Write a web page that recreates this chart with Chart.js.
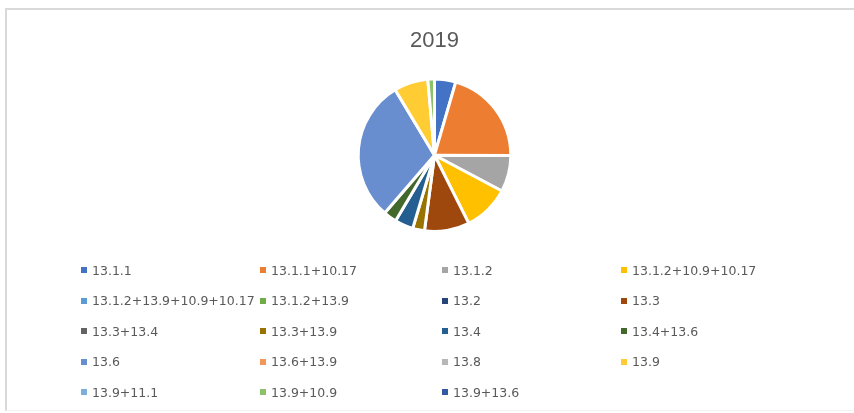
<!DOCTYPE html>
<html>
<head>
<meta charset="utf-8">
<script src="https://cdn.jsdelivr.net/npm/chart.js@4"></script>
<style>
    html, body {
        margin: 0;
        padding: 0;
        background: #ffffff;
        overflow: hidden;
    }

    #wrap {
        position: relative;
        width: 854px;
        height: 413px;
    }

    #frame {
        position: absolute;
        left: 5px;
        top: 8px;
        width: 900px;
        height: 400px;
        border-left: 2px solid #d9d9d9;
        border-top: 2px solid #d9d9d9;
        border-bottom: 1px solid #f2f2f2;
    }

    #pieChart {
        position: absolute;
        left: 0;
        top: 0;
    }

    #legend {
        position: absolute;
        left: 81px;
        top: 255px;
        display: grid;
        grid-template-columns: 179px 182px 179px 180px;
        grid-auto-rows: 30.5px;
        font-family: "DejaVu Sans", sans-serif;
        font-size: 12.5px;
        color: #595959;
    }

    .item {
        display: flex;
        align-items: center;
        white-space: nowrap;
    }

    .box {
        width: 6px;
        height: 6px;
        margin-right: 5px;
        flex: none;
    }
</style>
</head>
<body>
<div id="wrap">
    <div id="frame"></div>
    <canvas id="pieChart" width="854" height="413"></canvas>
    <div id="legend"></div>
</div>

<script>
// ================================
// Data
// ================================

const chartTitle = "2019"

const categories = [
    "13.1.1", "13.1.1+10.17", "13.1.2", "13.1.2+10.9+10.17",
    "13.1.2+13.9+10.9+10.17", "13.1.2+13.9", "13.2", "13.3",
    "13.3+13.4", "13.3+13.9", "13.4", "13.4+13.6",
    "13.6", "13.6+13.9", "13.8", "13.9",
    "13.9+11.1", "13.9+10.9", "13.9+13.6"
]

// share of the pie, in percent
const shares = [
    4.5, 20.5, 7.7, 9.8,
    0, 0, 0, 9.5,
    0, 2.5, 3.9, 2.8,
    30.0, 0, 0, 7.2,
    0, 1.4, 0
]

const sliceColors = [
    "#4472C4", "#ED7D31", "#A5A5A5", "#FFC000",
    "#5B9BD5", "#70AD47", "#264478", "#9E480E",
    "#636363", "#997300", "#255E91", "#43682B",
    "#698ED0", "#F1975A", "#B7B7B7", "#FFCD33",
    "#7CAFDD", "#8CC168", "#335AA1"
]

// ================================
// HTML legend (fixed 4 columns like the original)
// ================================

const htmlLegend = {
    id: "htmlLegend",
    afterUpdate(chart) {
        const box = document.getElementById("legend")
        box.innerHTML = ""

        const items = chart.options.plugins.legend.labels.generateLabels(chart)

        items.forEach(item => {
            let row = document.createElement("div")
            row.className = "item"

            let mark = document.createElement("span")
            mark.className = "box"
            mark.style.background = item.fillStyle

            let text = document.createElement("span")
            text.textContent = item.text

            row.appendChild(mark)
            row.appendChild(text)
            box.appendChild(row)
        })
    }
}

// ================================
// Pie chart
// ================================

const ctx = document.getElementById("pieChart")

new Chart(ctx, {

    type: "pie",

    data: {
        labels: categories,
        datasets: [{
            data: shares,
            backgroundColor: sliceColors,
            borderColor: "#ffffff",
            borderWidth: 3
        }]
    },

    options: {
        responsive: false,
        animation: false,

        layout: {
            padding: { left: 15, bottom: 180 }
        },

        plugins: {
            legend: { display: false },
            tooltip: { enabled: false },
            title: {
                display: true,
                text: chartTitle,
                color: "#595959",
                font: { family: "'Liberation Sans', sans-serif", size: 22, weight: "normal" },
                padding: { top: 28, bottom: 23 }
            }
        }
    },

    plugins: [htmlLegend]

})
</script>
</body>
</html>
